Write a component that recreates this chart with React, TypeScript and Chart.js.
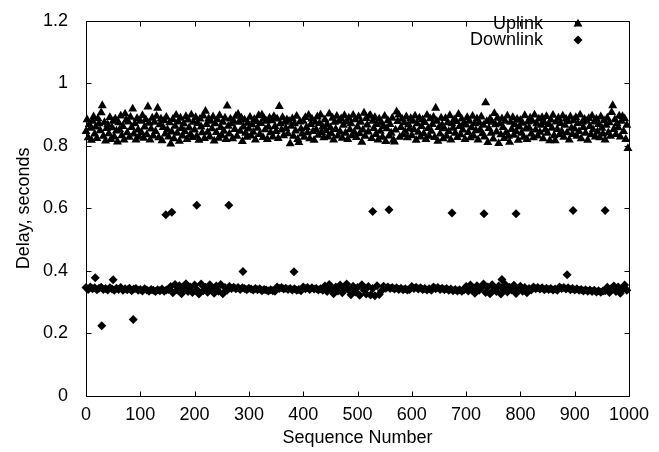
import React, { useEffect, useRef } from 'react';
import { Chart, registerables } from 'chart.js';

Chart.register(...registerables);

// ---- data ----
const UPLINK_SEQ_STEP = 2;   // sequence numbers between plotted uplink samples
const DOWNLINK_SEQ_STEP = 4; // sequence numbers between plotted downlink samples

const uplinkDelay = [
  0.846, 0.884, 0.826, 0.869, 0.857, 0.818, 0.879, 0.893, 0.838, 0.861,
  0.824, 0.887, 0.871, 0.849, 0.906, 0.929, 0.831, 0.875, 0.816, 0.856,
  0.868, 0.839, 0.891, 0.821, 0.858, 0.879, 0.829, 0.886, 0.848, 0.813,
  0.874, 0.852, 0.896, 0.833, 0.862, 0.819, 0.902, 0.882, 0.842, 0.877,
  0.828, 0.892, 0.859, 0.918, 0.838, 0.871, 0.819, 0.888, 0.851, 0.829,
  0.879, 0.843, 0.897, 0.825, 0.861, 0.884, 0.836, 0.925, 0.873, 0.819,
  0.854, 0.889, 0.832, 0.876, 0.846, 0.895, 0.921, 0.826, 0.868, 0.886,
  0.817, 0.859, 0.881, 0.838, 0.892, 0.852, 0.829, 0.874, 0.806, 0.845,
  0.885, 0.823, 0.863, 0.898, 0.841, 0.877, 0.815, 0.889, 0.856, 0.832,
  0.871, 0.846, 0.894, 0.821, 0.883, 0.858, 0.836, 0.899, 0.827, 0.876,
  0.851, 0.891, 0.831, 0.872, 0.818, 0.886, 0.861, 0.842, 0.896, 0.824,
  0.911, 0.869, 0.844, 0.887, 0.829, 0.879, 0.855, 0.893, 0.816, 0.871,
  0.843, 0.884, 0.825, 0.897, 0.859, 0.833, 0.876, 0.847, 0.889, 0.821,
  0.928, 0.863, 0.838, 0.886, 0.871, 0.823, 0.879, 0.853, 0.895, 0.831,
  0.901, 0.876, 0.847, 0.889, 0.814, 0.861, 0.883, 0.841, 0.828, 0.873,
  0.854, 0.892, 0.832, 0.868, 0.844, 0.885, 0.819, 0.878, 0.857, 0.897,
  0.837, 0.872, 0.899, 0.827, 0.887, 0.852, 0.879, 0.821, 0.861, 0.889,
  0.842, 0.881, 0.829, 0.894, 0.862, 0.846, 0.886, 0.824, 0.926, 0.871,
  0.851, 0.891, 0.833, 0.876, 0.856, 0.884, 0.839, 0.879, 0.807, 0.863,
  0.887, 0.831, 0.871, 0.848, 0.895, 0.821, 0.811, 0.877, 0.854, 0.838,
  0.879, 0.828, 0.891, 0.859, 0.842, 0.898, 0.823, 0.869, 0.886, 0.846,
  0.818, 0.876, 0.852, 0.893, 0.834, 0.872, 0.899, 0.843, 0.861, 0.826,
  0.884, 0.849, 0.869, 0.829, 0.902, 0.858, 0.839, 0.889, 0.819, 0.876,
  0.853, 0.895, 0.832, 0.879, 0.845, 0.887, 0.825, 0.866, 0.897, 0.841,
  0.877, 0.821, 0.889, 0.852, 0.871, 0.833, 0.898, 0.844, 0.884, 0.827,
  0.861, 0.893, 0.839, 0.876, 0.812, 0.851, 0.905, 0.831, 0.888, 0.867,
  0.845, 0.896, 0.897, 0.824, 0.879, 0.856, 0.891, 0.837, 0.869, 0.819,
  0.886, 0.847, 0.874, 0.828, 0.862, 0.895, 0.814, 0.855, 0.881, 0.832,
  0.869, 0.841, 0.889, 0.818, 0.813, 0.851, 0.909, 0.878, 0.899, 0.828,
  0.859, 0.886, 0.836, 0.874, 0.845, 0.893, 0.826, 0.868, 0.854, 0.888,
  0.833, 0.879, 0.852, 0.896, 0.818, 0.871, 0.844, 0.889, 0.829, 0.862,
  0.884, 0.839, 0.875, 0.821, 0.898, 0.856, 0.831, 0.887, 0.847, 0.869,
  0.892, 0.827, 0.921, 0.879, 0.815, 0.859, 0.838, 0.889, 0.866, 0.823,
  0.855, 0.888, 0.831, 0.874, 0.846, 0.897, 0.819, 0.871, 0.857, 0.884,
  0.841, 0.878, 0.827, 0.901, 0.862, 0.836, 0.886, 0.851, 0.873, 0.821,
  0.867, 0.891, 0.843, 0.879, 0.826, 0.858, 0.895, 0.832, 0.871, 0.849,
  0.887, 0.819, 0.874, 0.852, 0.893, 0.839, 0.866, 0.829, 0.938, 0.878,
  0.811, 0.856, 0.886, 0.841, 0.876, 0.822, 0.904, 0.868, 0.845, 0.889,
  0.808, 0.871, 0.836, 0.887, 0.859, 0.824, 0.879, 0.843, 0.896, 0.831,
  0.812, 0.876, 0.853, 0.891, 0.834, 0.868, 0.846, 0.885, 0.818, 0.861,
  0.882, 0.841, 0.873, 0.828, 0.897, 0.854, 0.821, 0.877, 0.858, 0.889,
  0.838, 0.879, 0.826, 0.899, 0.851, 0.871, 0.832, 0.886, 0.844, 0.866,
  0.891, 0.823, 0.874, 0.852, 0.894, 0.841, 0.869, 0.817, 0.883, 0.857,
  0.898, 0.833, 0.817, 0.877, 0.853, 0.889, 0.836, 0.872, 0.846, 0.896,
  0.828, 0.866, 0.886, 0.842, 0.878, 0.819, 0.893, 0.857, 0.837, 0.881,
  0.854, 0.891, 0.831, 0.872, 0.846, 0.899, 0.823, 0.876, 0.859, 0.885,
  0.841, 0.879, 0.818, 0.888, 0.862, 0.836, 0.896, 0.852, 0.877, 0.829,
  0.886, 0.845, 0.869, 0.826, 0.893, 0.857, 0.838, 0.881, 0.819, 0.866,
  0.889, 0.842, 0.874, 0.831, 0.907, 0.929, 0.853, 0.884, 0.837, 0.871,
  0.858, 0.896, 0.829, 0.879, 0.894, 0.846, 0.887, 0.821, 0.866, 0.792,
];

const downlinkDelay = [
  // 0-152
  0.347, 0.341, 0.349, 0.343, 0.346, 0.340, 0.345, 0.348, 0.341, 0.344,
  0.339, 0.346, 0.342, 0.338, 0.345, 0.341, 0.347, 0.338, 0.343, 0.340,
  0.345, 0.337, 0.342, 0.344, 0.338, 0.341, 0.336, 0.343, 0.339, 0.335,
  0.341, 0.338, 0.334, 0.340, 0.337, 0.342, 0.335, 0.339, 0.341,
  // 156-260
  0.350, 0.330, 0.357, 0.339, 0.353, 0.327, 0.345, 0.359, 0.334, 0.349,
  0.331, 0.355, 0.341, 0.326, 0.358, 0.337, 0.348, 0.332, 0.356, 0.342,
  0.329, 0.352, 0.335, 0.357, 0.327, 0.347, 0.338,
  // 264-436
  0.350, 0.344, 0.348, 0.343, 0.347, 0.341, 0.346, 0.344, 0.340, 0.345,
  0.342, 0.339, 0.344, 0.340, 0.343, 0.337, 0.341, 0.339, 0.336, 0.340,
  0.337, 0.335, 0.349, 0.344, 0.347, 0.342, 0.345, 0.341, 0.344, 0.339,
  0.343, 0.338, 0.341, 0.337, 0.349, 0.343, 0.347, 0.341, 0.346, 0.342,
  0.344, 0.339, 0.343, 0.338,
  // 440-544
  0.352, 0.334, 0.357, 0.341, 0.327, 0.349, 0.336, 0.355, 0.330, 0.345,
  0.358, 0.338, 0.324, 0.351, 0.333, 0.347, 0.322, 0.356, 0.339, 0.326,
  0.350, 0.323, 0.344, 0.321, 0.353, 0.325, 0.336,
  // 548-696
  0.351, 0.345, 0.349, 0.344, 0.347, 0.342, 0.346, 0.341, 0.345, 0.340,
  0.343, 0.339, 0.341, 0.350, 0.344, 0.348, 0.342, 0.346, 0.341, 0.344,
  0.339, 0.343, 0.338, 0.349, 0.343, 0.347, 0.341, 0.345, 0.340, 0.344,
  0.338, 0.342, 0.337, 0.341, 0.336, 0.340, 0.335, 0.339,
  // 700-820
  0.350, 0.336, 0.355, 0.341, 0.329, 0.353, 0.338, 0.346, 0.358, 0.331,
  0.349, 0.327, 0.356, 0.340, 0.334, 0.352, 0.326, 0.345, 0.357, 0.333,
  0.348, 0.339, 0.354, 0.328, 0.343, 0.351, 0.335, 0.347, 0.330, 0.344,
  0.339,
  // 824-952
  0.349, 0.343, 0.347, 0.342, 0.346, 0.340, 0.345, 0.341, 0.344, 0.339,
  0.342, 0.338, 0.349, 0.344, 0.347, 0.342, 0.346, 0.340, 0.344, 0.339,
  0.343, 0.338, 0.341, 0.336, 0.340, 0.335, 0.339, 0.334, 0.338, 0.333,
  0.337, 0.332, 0.336,
  // 956-996
  0.337, 0.348, 0.331, 0.345, 0.352, 0.334, 0.349, 0.329, 0.343, 0.355,
  0.338,
];

const downlinkOutlierSeq = [17, 29, 50, 87, 147, 158, 204, 263, 289, 383, 528, 558, 674, 733, 766, 792, 886, 897, 956];
const downlinkOutlierDelay = [0.378, 0.225, 0.372, 0.245, 0.580, 0.588, 0.610, 0.610, 0.398, 0.397, 0.590, 0.596, 0.585, 0.583, 0.373, 0.583, 0.388, 0.593, 0.593];

const seriesLabels = ['Uplink', 'Downlink'];
const xTitle = 'Sequence Number';
const yTitle = 'Delay, seconds';
const X_MIN = 0, X_MAX = 1000, X_STEP = 100;
const Y_MIN = 0, Y_MAX = 1.2, Y_STEP = 0.2;

// ---- style ----
const FONT = "'Liberation Sans', Arial, Helvetica, sans-serif";
const FONT_SIZE = 18;
const TRI_R = 5.2;
const DIA_R = 4.5;

function drawSymbol(ctx: CanvasRenderingContext2D, style: string, x: number, y: number, r: number) {
  ctx.beginPath();
  if (style === 'triangle') {
    ctx.moveTo(x, y - r);
    ctx.lineTo(x + r * Math.sin((2 * Math.PI) / 3), y - r * Math.cos((2 * Math.PI) / 3));
    ctx.lineTo(x + r * Math.sin((4 * Math.PI) / 3), y - r * Math.cos((4 * Math.PI) / 3));
  } else {
    ctx.moveTo(x - r, y);
    ctx.lineTo(x, y - r);
    ctx.lineTo(x + r, y);
    ctx.lineTo(x, y + r);
  }
  ctx.closePath();
  ctx.fill();
}

const framePlugin = {
  id: 'gnuplotFrame',
  afterDatasetsDraw(chart: any) {
    const { ctx, chartArea } = chart;
    const { left, right, top, bottom } = chartArea;
    const xs = chart.scales.x;
    const ys = chart.scales.y;
    const T = 5;
    ctx.save();
    ctx.strokeStyle = '#000';
    ctx.lineWidth = 1;
    const L = Math.round(left) + 0.5, R = Math.round(right) + 0.5, Tp = Math.round(top) + 0.5, B = Math.round(bottom) + 0.5;
    ctx.beginPath();
    ctx.rect(L, Tp, R - L, B - Tp);
    xs.ticks.forEach((t: any) => {
      const px = Math.round(xs.getPixelForValue(t.value)) + 0.5;
      ctx.moveTo(px, B); ctx.lineTo(px, B - T);
      ctx.moveTo(px, Tp); ctx.lineTo(px, Tp + T);
    });
    ys.ticks.forEach((t: any) => {
      const py = Math.round(ys.getPixelForValue(t.value)) + 0.5;
      ctx.moveTo(L, py); ctx.lineTo(L + T, py);
      ctx.moveTo(R, py); ctx.lineTo(R - T, py);
    });
    ctx.stroke();

    // key (gnuplot style: text right-aligned, sample at right)
    const textRight = 543;
    const sampleX = 578;
    const rowY = [24, 40];
    ctx.fillStyle = '#000';
    ctx.font = `${FONT_SIZE}px ${FONT}`;
    ctx.textAlign = 'right';
    ctx.textBaseline = 'middle';
    chart.data.datasets.forEach((ds: any, i: number) => {
      ctx.fillText(ds.label, textRight, rowY[i]);
      drawSymbol(ctx, ds.pointStyle, sampleX, rowY[i], ds.pointRadius);
    });
    ctx.restore();
  },
};

export default function App() {
  const ref = useRef<HTMLCanvasElement | null>(null);

  useEffect(() => {
    document.body.style.margin = '0';
    if (!ref.current) return;
    Chart.defaults.font.family = FONT;
    Chart.defaults.font.size = FONT_SIZE;
    Chart.defaults.color = '#000';

    const uplinkPoints = uplinkDelay.map((d, i) => ({ x: i * UPLINK_SEQ_STEP, y: d }));
    const downlinkPoints = downlinkDelay
      .map((d, i) => ({ x: i * DOWNLINK_SEQ_STEP, y: d }))
      .concat(downlinkOutlierSeq.map((s, i) => ({ x: s, y: downlinkOutlierDelay[i] })));

    const chart = new Chart(ref.current, {
      type: 'scatter',
      data: {
        datasets: [
          {
            label: seriesLabels[0],
            data: uplinkPoints,
            pointStyle: 'triangle',
            pointRadius: TRI_R,
            backgroundColor: '#000',
            borderColor: '#000',
            borderWidth: 0,
            clip: false,
          } as any,
          {
            label: seriesLabels[1],
            data: downlinkPoints,
            pointStyle: 'rectRot',
            pointRadius: DIA_R,
            backgroundColor: '#000',
            borderColor: '#000',
            borderWidth: 0,
            clip: false,
          } as any,
        ],
      },
      options: {
        animation: false,
        responsive: false,
        events: [],
        layout: { padding: { top: 12, right: 30, left: 0, bottom: 0 } },
        plugins: { legend: { display: false }, tooltip: { enabled: false } },
        scales: {
          x: {
            type: 'linear',
            min: X_MIN,
            max: X_MAX,
            grid: { display: false },
            border: { display: false },
            ticks: {
              stepSize: X_STEP,
              padding: 0,
              maxRotation: 0,
              autoSkip: false,
              callback: (v: any) => String(v),
            },
            title: { display: true, text: xTitle, padding: { top: 0, bottom: 3 } },
            afterFit: (s: any) => { s.height = 56; },
          },
          y: {
            type: 'linear',
            min: Y_MIN,
            max: Y_MAX,
            grid: { display: false },
            border: { display: false },
            ticks: {
              stepSize: Y_STEP,
              padding: 10,
              callback: (v: any) => String(Number(Number(v).toFixed(1))),
            },
            title: { display: true, text: yTitle, padding: { top: 13, bottom: 0 } },
            afterFit: (s: any) => { s.width = 86; },
          },
        },
      },
      plugins: [framePlugin],
    });
    return () => chart.destroy();
  }, []);

  return (
    <div style={{ width: 659, height: 452 }}>
      <canvas ref={ref} width={659} height={452} style={{ display: 'block' }} />
    </div>
  );
}
